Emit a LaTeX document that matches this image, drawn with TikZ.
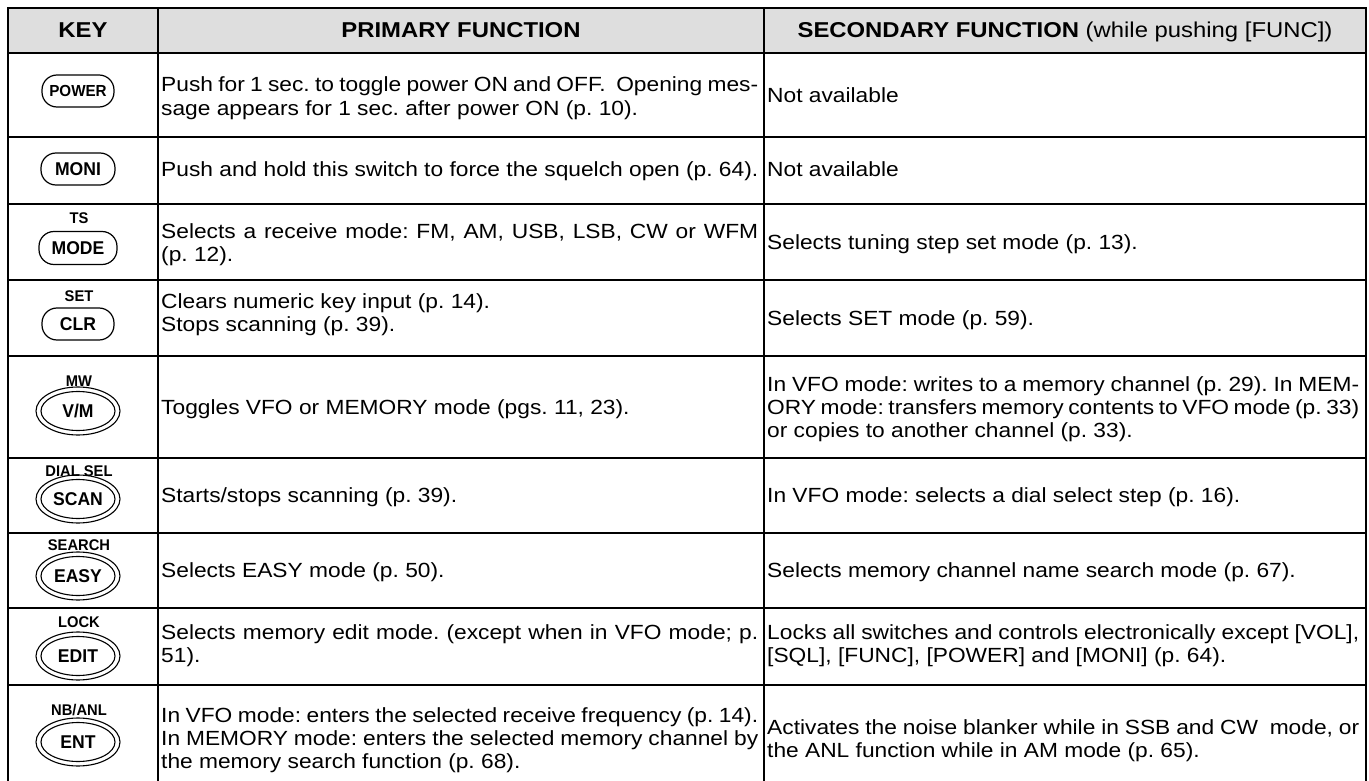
\documentclass[tikz,border=0pt]{standalone}
\usepackage{fontspec}
\setmainfont{Liberation Sans}[FakeStretch=1.11]
\newfontfamily\keyfont{Liberation Sans}[FakeStretch=0.95]
\usetikzlibrary{shapes.geometric}
\frenchspacing
\newcommand\bodyfs{\fontsize{20.5}{23.3}\selectfont}
\newcommand\headfs{\fontsize{21.5}{24}\selectfont}
\newcommand\keyfs{\keyfont\fontsize{18.5}{20}\selectfont\bfseries}
\newcommand\powfs{\keyfont\fontsize{16}{18}\selectfont\bfseries}
\newcommand\labfs{\keyfont\fontsize{15.5}{17}\selectfont\bfseries}
\newlength\pw \setlength\pw{597pt}
\newlength\sw \setlength\sw{592pt}
\newcommand\jp[1]{{\spaceskip=.278em plus 1em minus .14em\relax\makebox[\pw][s]{#1}}}
\newcommand\js[1]{{\spaceskip=.278em plus 1em minus .14em\relax\makebox[\sw][s]{#1}}}
\newcommand\cell[1]{\begin{tabular}[t]{@{}l@{}}#1\end{tabular}}
\begin{document}
\begin{tikzpicture}[x=1pt,y=-1pt,
  txt/.style={anchor=base west, inner sep=0pt, font=\bodyfs},
  hdr/.style={anchor=base, inner sep=0pt, font=\headfs},
  keyone/.style={draw, line width=1.2pt, rounded corners=15pt, minimum width=74pt, minimum height=32pt, inner sep=0pt, font=\keyfs},
  keyout/.style={draw, ellipse, line width=1.1pt, minimum width=84pt, minimum height=48pt, inner sep=0pt},
  keyin/.style={draw, ellipse, line width=1.1pt, minimum width=74pt, minimum height=39pt, inner sep=0pt, font=\keyfs},
  lab/.style={inner sep=0pt, font=\labfs},
  border/.style={line width=2.2pt},
  rule/.style={line width=1.4pt},
  divider/.style={line width=1.6pt}
]
\fill[white] (0,0) rectangle (1369,781);
\useasboundingbox (0,0) rectangle (1369,781);
\clip (0,0) rectangle (1369,781);
% header background
\fill[black!13] (8,8) rectangle (1366,53);
% horizontal rules
\foreach \yy in {137,204,280,356,458,533,608,685}
  \draw[rule] (8,\yy) -- (1366,\yy);
\draw[border] (8,53) -- (1366,53);
% vertical rules
\draw[divider] (158,8) -- (158,795);
\draw[divider] (764,8) -- (764,795);
\draw[border] (8,795) -- (8,8) -- (1366,8) -- (1366,795);

% header
\node[hdr,font=\headfs\bfseries] (hkey) at (83,38) {KEY};
\node[hdr,font=\headfs\bfseries] (hpri) at (461,38) {PRIMARY FUNCTION};
\node[hdr] (hsec) at (1065,38) {\textbf{SECONDARY FUNCTION} (while pushing [FUNC])};

% keys
\node[keyone,font=\powfs,minimum width=72pt] (kpower) at (78,91) {POWER};
\node[keyone] (kmoni) at (78,169) {MONI};
\node[lab] (lts) at (79,218) {TS};
\node[keyone,minimum width=78pt,minimum height=33pt] (kmode) at (78,248) {MODE};
\node[lab] (lset) at (79,296) {SET};
\node[keyone,minimum width=72pt] (kclr) at (78,324) {CLR};
\node[lab] (lmw) at (79,381) {MW};
\node[keyout] (kvmo) at (78,411) {};
\node[keyin] (kvm) at (78,411) {V/M};
\node[lab] (ldial) at (79,471) {DIAL SEL};
\node[keyout] (kscano) at (78,499) {};
\node[keyin] (kscan) at (78,499) {SCAN};
\node[lab] (lsearch) at (79,545) {SEARCH};
\node[keyout] (keasyo) at (78,576) {};
\node[keyin] (keasy) at (78,576) {EASY};
\node[lab] (llock) at (79,622) {LOCK};
\node[keyout] (kedito) at (78,656) {};
\node[keyin] (kedit) at (78,656) {EDIT};
\node[lab] (lnb) at (79,710) {NB/ANL};
\node[keyout] (kento) at (78,742) {};
\node[keyin] (kent) at (78,742) {ENT};

% primary function texts
\node[txt] (ppower) at (161,92) {\cell{\jp{Push for 1 sec. to toggle power ON and OFF.\ \ Opening mes-}\\ sage appears for 1 sec. after power ON (p. 10).}};
\node[txt] (pmoni) at (161,177) {\cell{Push and hold this switch to force the squelch open (p. 64).}};
\node[txt] (pmode) at (161,238) {\cell{\jp{Selects a receive mode: FM, AM, USB, LSB, CW or WFM}\\ (p. 12).}};
\node[txt] (pclr) at (161,308) {\cell{Clears numeric key input (p. 14).\\ Stops scanning (p. 39).}};
\node[txt] (pvm) at (161,414) {\cell{Toggles VFO or MEMORY mode (pgs. 11, 23).}};
\node[txt] (pscan) at (161,502) {\cell{Starts/stops scanning (p. 39).}};
\node[txt] (peasy) at (161,577) {\cell{Selects EASY mode (p. 50).}};
\node[txt] (pedit) at (161,639) {\cell{\jp{Selects memory edit mode. (except when in VFO mode; p.}\\ 51).}};
\node[txt] (pent) at (161,722) {\cell{\jp{In VFO mode: enters the selected receive frequency (p. 14).}\\ \jp{In MEMORY mode: enters the selected memory channel by}\\ the memory search function (p. 68).}};

% secondary function texts
\node[txt] (spower) at (767,103) {\cell{Not available}};
\node[txt] (smoni) at (767,177) {\cell{Not available}};
\node[txt] (smode) at (767,249) {\cell{Selects tuning step set mode (p. 13).}};
\node[txt] (sclr) at (767,325) {\cell{Selects SET mode (p. 59).}};
\node[txt] (svm) at (767,391) {\cell{\js{In VFO mode: writes to a memory channel (p. 29). In MEM-}\\ \js{ORY mode: transfers memory contents to VFO mode (p. 33)}\\ or copies to another channel (p. 33).}};
\node[txt] (sscan) at (767,502) {\cell{In VFO mode: selects a dial select step (p. 16).}};
\node[txt] (seasy) at (767,577) {\cell{Selects memory channel name search mode (p. 67).}};
\node[txt] (sedit) at (767,639) {\cell{\js{Locks all switches and controls electronically except [VOL],}\\\relax [SQL], [FUNC], [POWER] and [MONI] (p. 64).}};
\node[txt] (sent) at (767,734) {\cell{\js{Activates the noise blanker while in SSB and CW\ \ mode, or}\\ the ANL function while in AM mode (p. 65).}};
\end{tikzpicture}
\end{document}
